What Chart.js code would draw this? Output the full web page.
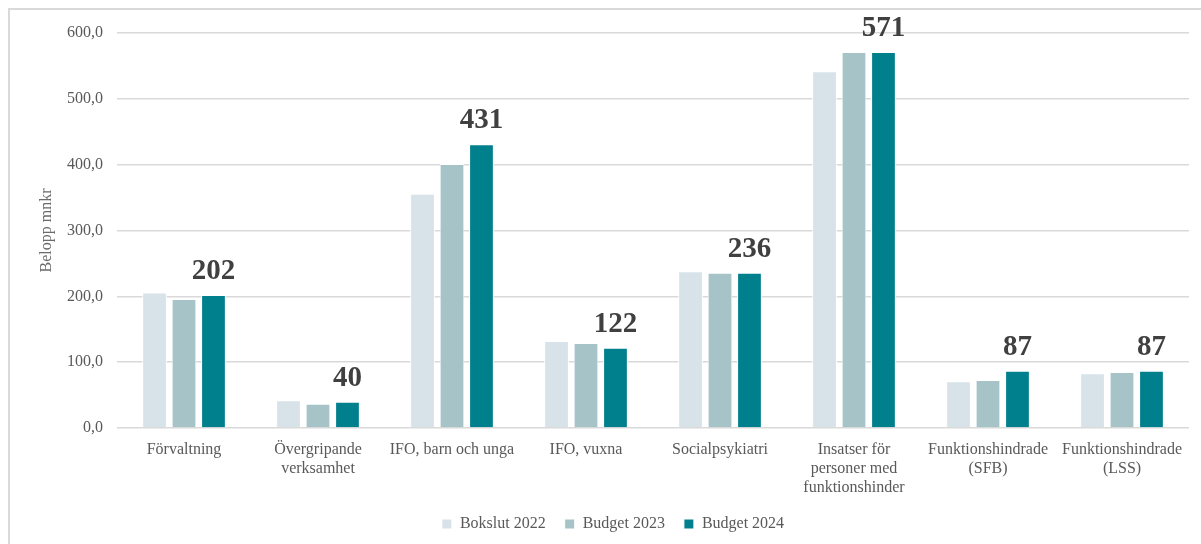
<!DOCTYPE html>
<html>
<head>
<meta charset="utf-8">
<script src="https://cdn.jsdelivr.net/npm/chart.js@4"></script>
<style>
    html, body { margin: 0; padding: 0; background: #fff; }
    #wrap { position: absolute; left: 0; top: 0; width: 1201px; height: 544px; }
    #frame { position: absolute; left: 8px; top: 8px; width: 1300px; height: 600px; border: 2px solid #d9d9d9; box-sizing: border-box; }
    canvas { position: absolute; left: 0; top: 0; }
</style>
</head>
<body>
<div id="wrap">
    <div id="frame"></div>
    <canvas id="myBarChart" width="1201" height="544"></canvas>
</div>
<script>
// categories on the x axis (multi line labels as arrays)
const categories = [
    'Förvaltning',
    ['Övergripande', 'verksamhet'],
    'IFO, barn och unga',
    'IFO, vuxna',
    'Socialpsykiatri',
    ['Insatser för', 'personer med', 'funktionshinder'],
    ['Funktionshindrade', '(SFB)'],
    ['Funktionshindrade', '(LSS)']
];

// series values in mnkr
const bokslut2022 = [206, 42, 356, 132, 238, 542, 71, 83];
const budget2023 = [196, 37, 401, 129, 236, 571, 73, 85];
const budget2024 = [202, 40, 431, 122, 236, 571, 87, 87];

const seriesNames = ['Bokslut 2022', 'Budget 2023', 'Budget 2024'];
const yTicks = [0, 100, 200, 300, 400, 500, 600];

const serif = '"Liberation Serif", "Times New Roman", serif';
const grey = '#595959';

// plugin to write the big bold value above the Budget 2024 bars
const valueLabels = {
    id: 'valueLabels',
    afterDatasetsDraw(chart) {
        const c = chart.ctx;
        const meta = chart.getDatasetMeta(2);
        c.save();
        c.font = 'bold 29px ' + serif;
        c.fillStyle = '#404040';
        c.textAlign = 'center';
        c.textBaseline = 'alphabetic';
        meta.data.forEach((bar, i) => {
            c.fillText(String(budget2024[i]), bar.x, bar.y - 16);
        });
        c.restore();
    }
};

const ctp = document.getElementById('myBarChart').getContext('2d');

new Chart(ctp, {
    type: 'bar',
    data: {
        labels: categories,
        datasets: [{
            label: seriesNames[0],
            data: bokslut2022,
            backgroundColor: '#d7e3e8',
            borderColor: '#ffffff',
            borderWidth: 1
        }, {
            label: seriesNames[1],
            data: budget2023,
            backgroundColor: '#a6c3c8',
            borderColor: '#ffffff',
            borderWidth: 1
        }, {
            label: seriesNames[2],
            data: budget2024,
            backgroundColor: '#00808d',
            borderColor: '#ffffff',
            borderWidth: 1
        }]
    },
    options: {
        responsive: false,
        animation: false,
        layout: {
            padding: { left: 37, right: 12, top: 33, bottom: 2 }
        },
        datasets: {
            bar: { categoryPercentage: 0.66, barPercentage: 0.84 }
        },
        scales: {
            x: {
                grid: { display: false },
                border: { display: false },
                afterFit: (scale) => { scale.height = 69; },
                ticks: {
                    color: grey,
                    font: { family: serif, size: 16 },
                    maxRotation: 0,
                    autoSkip: false,
                    padding: 4
                }
            },
            y: {
                min: 0,
                max: 600,
                afterBuildTicks: (scale) => {
                    scale.ticks = yTicks.map(v => ({ value: v }));
                },
                afterFit: (scale) => { scale.width = 80; },
                grid: { color: '#d9d9d9', lineWidth: 1.5, drawTicks: false },
                border: { display: false },
                ticks: {
                    color: grey,
                    font: { family: serif, size: 16 },
                    padding: 14,
                    callback: (v) => v.toFixed(1).replace('.', ',')
                },
                title: {
                    display: true,
                    text: 'Belopp mnkr',
                    color: '#6b6b6b',
                    font: { family: serif, size: 16 },
                    padding: { top: 0, bottom: 0 }
                }
            }
        },
        plugins: {
            legend: {
                position: 'bottom',
                labels: {
                    color: grey,
                    font: { family: serif, size: 16 },
                    boxWidth: 10,
                    boxHeight: 10,
                    padding: 19,
                    useBorderRadius: false
                }
            },
            tooltip: { enabled: false }
        }
    },
    plugins: [valueLabels]
});
</script>
</body>
</html>
